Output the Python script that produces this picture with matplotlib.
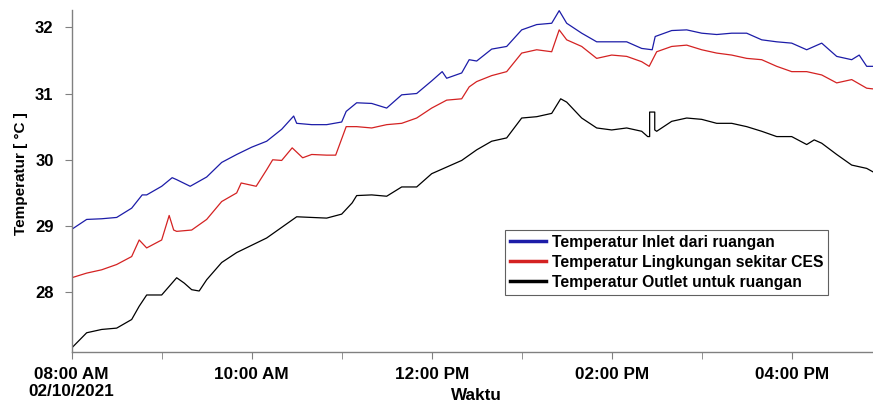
import numpy as np
import matplotlib
matplotlib.use('Agg')
import matplotlib.pyplot as plt

plt.rcParams['font.family'] = ['Liberation Sans', 'DejaVu Sans']
plt.rcParams['font.weight'] = 'bold'

# minutes after 08:00 on 02/10/2021
t_inlet = [0, 10, 20, 30, 40, 47, 50, 60, 67, 70, 79, 90, 100, 110, 120, 130,
           140, 148, 150, 160, 170, 180, 183, 190, 200, 210, 220, 230, 240, 247,
           250, 260, 265, 270, 280, 290, 300, 310, 320, 325, 330, 340, 350, 360,
           370, 380, 387, 389, 400, 410, 420, 430, 440, 450, 460, 470, 480, 490,
           500, 510, 520, 525, 530, 534]
v_inlet = [28.95, 29.10, 29.11, 29.13, 29.27, 29.47, 29.47, 29.60, 29.73, 29.70,
           29.60, 29.74, 29.96, 30.08, 30.19, 30.28, 30.46, 30.66, 30.55, 30.53,
           30.53, 30.57, 30.73, 30.86, 30.85, 30.78, 30.98, 31.00, 31.19, 31.33,
           31.23, 31.31, 31.51, 31.49, 31.67, 31.71, 31.96, 32.04, 32.06, 32.25,
           32.06, 31.91, 31.78, 31.78, 31.78, 31.68, 31.66, 31.86, 31.95, 31.96,
           31.91, 31.89, 31.91, 31.91, 31.81, 31.78, 31.76, 31.66, 31.76, 31.56,
           31.51, 31.58, 31.41, 31.41]

t_ling = [0, 10, 20, 30, 40, 45, 50, 60, 65, 68, 70, 80, 90, 100, 110, 113, 123,
          130, 134, 140, 147, 154, 160, 170, 176, 183, 190, 200, 210, 220, 230,
          240, 250, 260, 265, 270, 280, 290, 300, 310, 320, 325, 330, 340, 350,
          360, 370, 380, 385, 390, 400, 410, 420, 430, 440, 450, 460, 470, 480,
          490, 500, 510, 520, 530, 534]
v_ling = [28.22, 28.29, 28.34, 28.42, 28.54, 28.79, 28.67, 28.79, 29.16, 28.94,
          28.92, 28.94, 29.10, 29.37, 29.50, 29.65, 29.60, 29.85, 30.00, 29.99,
          30.18, 30.03, 30.08, 30.07, 30.07, 30.50, 30.50, 30.48, 30.53, 30.55,
          30.63, 30.78, 30.90, 30.92, 31.10, 31.18, 31.27, 31.33, 31.61, 31.66,
          31.63, 31.96, 31.81, 31.71, 31.53, 31.58, 31.56, 31.48, 31.41, 31.63,
          31.71, 31.73, 31.66, 31.61, 31.58, 31.53, 31.51, 31.41, 31.33, 31.33,
          31.28, 31.16, 31.21, 31.08, 31.07]

t_outlet = [0, 10, 20, 30, 40, 45, 50, 60, 65, 70, 75, 80, 85, 90, 100, 110, 120,
            130, 140, 150, 160, 170, 180, 187, 190, 200, 210, 220, 230, 240, 250,
            260, 270, 280, 290, 300, 310, 320, 326, 330, 340, 350, 360, 370, 380,
            384, 385.3, 385.3, 388.7, 388.7, 390, 400, 410, 420, 430, 440, 450,
            460, 470, 480, 490, 495, 500, 510, 520, 530, 534]
v_outlet = [27.16, 27.39, 27.44, 27.46, 27.59, 27.79, 27.96, 27.96, 28.09, 28.22,
            28.14, 28.04, 28.02, 28.19, 28.45, 28.60, 28.71, 28.82, 28.98, 29.14,
            29.13, 29.12, 29.18, 29.35, 29.46, 29.47, 29.45, 29.59, 29.59, 29.79,
            29.89, 29.99, 30.15, 30.28, 30.33, 30.63, 30.65, 30.70, 30.92, 30.87,
            30.63, 30.48, 30.45, 30.48, 30.43, 30.35, 30.35, 30.72, 30.72, 30.45,
            30.43, 30.58, 30.63, 30.61, 30.55, 30.55, 30.50, 30.43, 30.35, 30.35,
            30.23, 30.30, 30.25, 30.08, 29.92, 29.87, 29.82]

labels = ['Temperatur Inlet dari ruangan',
          'Temperatur Lingkungan sekitar CES',
          'Temperatur Outlet untuk ruangan']
tick_pos = [0, 120, 240, 360, 480]
tick_lbl = ['08:00 AM\n02/10/2021', '10:00 AM', '12:00 PM', '02:00 PM', '04:00 PM']
yticks = [28, 29, 30, 31, 32]

fig = plt.figure(figsize=(8.73, 4.03), dpi=100)
ax = fig.add_axes([0.0821, 0.1266, 0.9179, 0.8486])

ax.plot(t_inlet, v_inlet, color='#1c1ca8', lw=0.9, label=labels[0])
ax.plot(t_ling, v_ling, color='#d42222', lw=0.9, label=labels[1])
ax.plot(t_outlet, v_outlet, color='black', lw=0.9, label=labels[2])

ax.set_xlim(0, 534.2)
ax.set_ylim(27.1, 32.26)
ax.set_xticks(tick_pos)
ax.set_xticklabels(tick_lbl)
ax.set_xticks([60, 180, 300, 420], minor=True)
ax.set_yticks(yticks)

for s in ['top', 'right']:
    ax.spines[s].set_visible(False)
for s in ['left', 'bottom']:
    ax.spines[s].set_color('#808080')
    ax.spines[s].set_linewidth(1)

ax.tick_params(axis='both', which='both', direction='out', length=5,
               color='#808080', labelsize=12)
ax.tick_params(axis='y', pad=8)
ax.tick_params(axis='x', pad=5.5, labelsize=12.3)
for lab in ax.get_xticklabels() + ax.get_yticklabels():
    lab.set_fontweight('bold')

ax.set_ylabel('Temperatur [ °C ]', fontsize=11, fontweight='bold')
ax.yaxis.set_label_coords(-0.054, 0.523)
ax.set_xlabel('Waktu', fontsize=12.3, fontweight='bold', va='top')
ax.xaxis.set_label_coords(0.5054, -0.104)

leg = ax.legend(loc='upper left', bbox_to_anchor=(0.541, 0.357), borderaxespad=0,
                fancybox=False, framealpha=1, edgecolor='#606060',
                prop={'size': 11.3, 'weight': 'bold'}, handlelength=2.3,
                handletextpad=0.4, labelspacing=0.33, borderpad=0.3)
leg.get_frame().set_linewidth(0.8)
for ln in leg.get_lines():
    ln.set_linewidth(2.5)

fig.savefig('out.png', dpi=100)
